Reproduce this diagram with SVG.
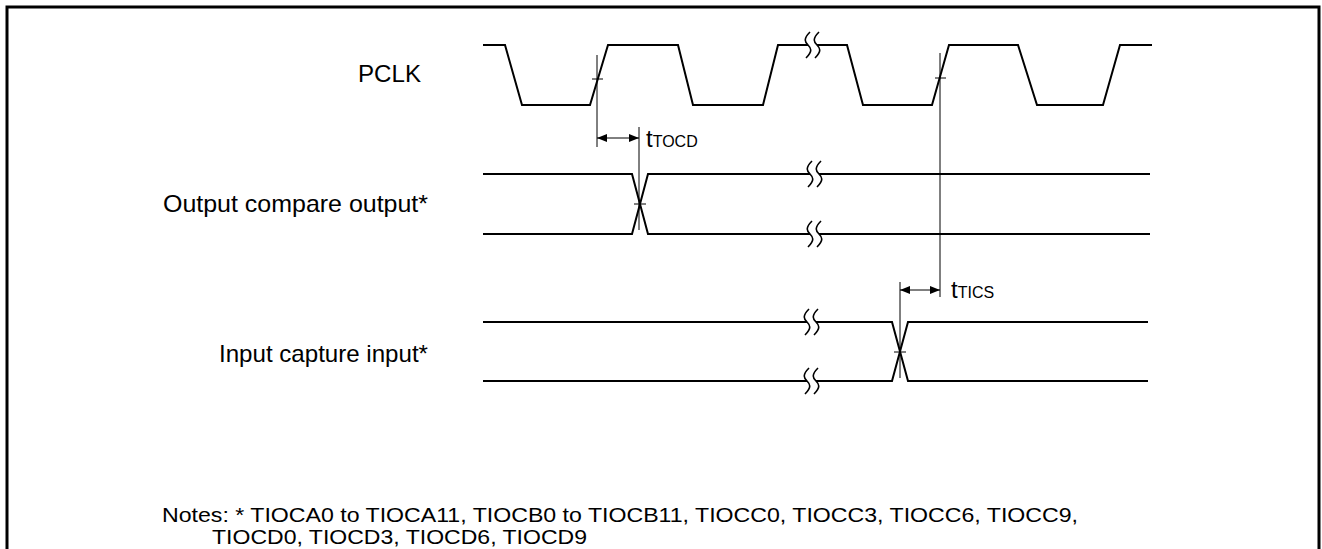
<svg xmlns="http://www.w3.org/2000/svg" width="1322" height="549" viewBox="0 0 1322 549">
<style>
.w{fill:none;stroke:#000;stroke-width:2;stroke-linejoin:miter}
.t{fill:none;stroke:#000;stroke-width:1}
.lbl{font-family:"Liberation Sans",Arial,sans-serif;font-size:24px;fill:#000}
.note{font-family:"Liberation Sans",Arial,sans-serif;font-size:21px;fill:#000}
.sub{font-size:16px}
</style>
<defs>
<marker id="ah" viewBox="0 0 10 8" refX="10" refY="4" markerWidth="10" markerHeight="8" orient="auto-start-reverse" markerUnits="userSpaceOnUse">
<path d="M0,0 L10,4 L0,8 Z" fill="#000"/>
</marker>
<path id="brk" d="M2,-13 C-5,-6 -3,-3 0,0 C3,3 5,6 -2,13" fill="none" stroke="#000" stroke-width="1.6"/>
</defs>
<rect width="1322" height="549" fill="#fff"/>
<path d="M7,552 V7 H1319 V552" fill="none" stroke="#000" stroke-width="3"/>

<g id="pclk">
<text class="lbl" x="358" y="82" textLength="63" lengthAdjust="spacingAndGlyphs">PCLK</text>
<polyline class="w" points="483,45 505,45 522,105 590,105 608,45 678,45 693,105 763,105 778,45 808,45"/>
<polyline class="w" points="817,45 847,45 863,105 932,105 949,45 1018,45 1037,105 1103,105 1120,45 1152,45"/>
<use href="#brk" x="808" y="45"/>
<use href="#brk" x="817" y="45"/>
</g>

<g id="output-compare">
<text class="lbl" x="163" y="212" textLength="265" lengthAdjust="spacingAndGlyphs">Output compare output*</text>
<polyline class="w" points="483,174 632,174 648,234 810,234"/>
<polyline class="w" points="483,234 632,234 648,174 810,174"/>
<line class="w" x1="819" y1="174" x2="1150" y2="174"/>
<line class="w" x1="819" y1="234" x2="1150" y2="234"/>
<use href="#brk" x="810" y="174"/>
<use href="#brk" x="819" y="174"/>
<use href="#brk" x="810" y="234"/>
<use href="#brk" x="819" y="234"/>
</g>

<g id="input-capture">
<text class="lbl" x="219" y="362" textLength="209" lengthAdjust="spacingAndGlyphs">Input capture input*</text>
<line class="w" x1="483" y1="322" x2="807" y2="322"/>
<line class="w" x1="483" y1="381" x2="807" y2="381"/>
<polyline class="w" points="816,322 892,322 908,381 1148,381"/>
<polyline class="w" points="816,381 892,381 908,322 1148,322"/>
<use href="#brk" x="807" y="322"/>
<use href="#brk" x="816" y="322"/>
<use href="#brk" x="807" y="381"/>
<use href="#brk" x="816" y="381"/>
</g>

<g id="tTOCD">
<text class="lbl" x="646" y="147">t<tspan class="sub">TOCD</tspan></text>
</g>
<g id="tTICS">
<text class="lbl" x="951" y="298">t<tspan class="sub">TICS</tspan></text>
</g>

<g id="connectors">
<line class="t" x1="597" y1="55" x2="597" y2="147"/>
<line class="t" x1="592" y1="79" x2="603" y2="79"/>
<line class="t" x1="639" y1="127" x2="639" y2="230"/>
<line class="t" x1="634" y1="204" x2="646" y2="204"/>
<line class="t" x1="597" y1="138" x2="639" y2="138" marker-start="url(#ah)" marker-end="url(#ah)"/>
<line class="t" x1="940" y1="53" x2="940" y2="297"/>
<line class="t" x1="935" y1="78" x2="946" y2="78"/>
<line class="t" x1="900" y1="282" x2="900" y2="378"/>
<line class="t" x1="894" y1="352" x2="906" y2="352"/>
<line class="t" x1="900" y1="290" x2="940" y2="290" marker-start="url(#ah)" marker-end="url(#ah)"/>
</g>

<g id="notes">
<text class="note" x="162" y="522" textLength="916" lengthAdjust="spacingAndGlyphs">Notes: * TIOCA0 to TIOCA11, TIOCB0 to TIOCB11, TIOCC0, TIOCC3, TIOCC6, TIOCC9,</text>
<text class="note" x="212" y="544" textLength="375" lengthAdjust="spacingAndGlyphs">TIOCD0, TIOCD3, TIOCD6, TIOCD9</text>
</g>
</svg>
